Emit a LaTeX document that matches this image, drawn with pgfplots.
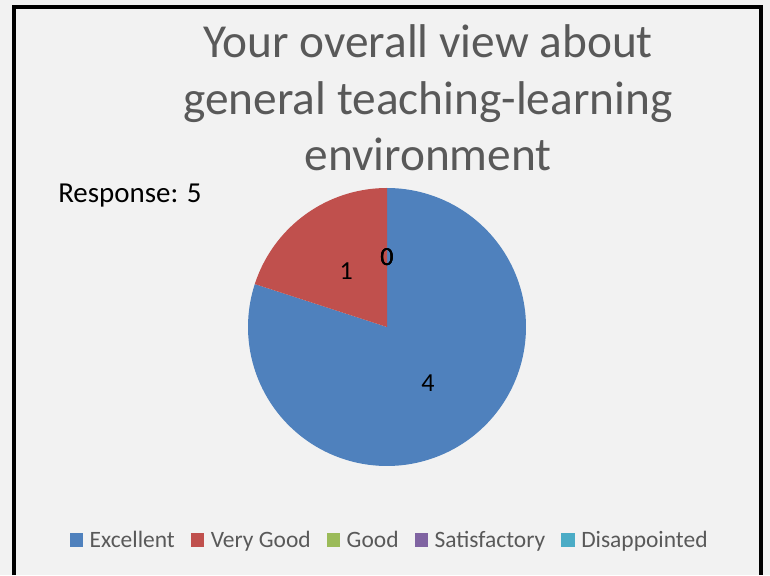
\documentclass[border=0pt]{standalone}
\usepackage{fontspec}
\setmainfont{Carlito}
\usepackage{pgfplots}
\usepackage{pgfplotstable}
\pgfplotsset{compat=1.18}
\definecolor{bgray}{HTML}{F2F2F2}
\definecolor{txtgray}{HTML}{595959}
\definecolor{cExc}{HTML}{4F81BD}
\definecolor{cVG}{HTML}{C0504D}
\definecolor{cGood}{HTML}{9BBB59}
\definecolor{cSat}{HTML}{8064A2}
\definecolor{cDis}{HTML}{4BACC6}

% answers to the question, one row per category
\pgfplotstableread[col sep=comma]{
label,value,color
Excellent,4,cExc
Very Good,1,cVG
Good,0,cGood
Satisfactory,0,cSat
Disappointed,0,cDis
}\piedata

\newcommand\labelfont{\fontsize{19.5}{22}\selectfont}
% pie centre and radius, in pixels of the 770x575 picture
\def\cx{387}
\def\cy{248}
\def\rr{139}

\begin{document}
\begin{tikzpicture}
% total of the answers
\def\total{0}
\pgfplotsforeachungrouped \i in {0,...,4}{%
  \pgfplotstablegetelem{\i}{value}\of\piedata
  \pgfmathsetmacro\total{\total+\pgfplotsretval}%
}
\begin{axis}[
    x=0.75pt, y=0.75pt,
    xmin=0, xmax=770, ymin=0, ymax=575,
    hide axis,
    axis background/.style={fill=bgray},
    legend columns=-1,
    legend image code/.code={\fill (0pt,-5pt) rectangle (10pt,5pt); \path (13pt,0pt);},
    legend style={at={(axis cs:390,35)}, anchor=center, draw=none, fill=none,
        font=\fontsize{17.6}{21}\selectfont, text=txtgray,
        /tikz/every even column/.append style={column sep=10pt}},
]
% frame, cut by the lower edge
\draw[line width=3pt, black] (axis cs:13.5,0) -- (axis cs:13.5,568) -- (axis cs:761,568) -- (axis cs:761,0);

\node[anchor=base, text=txtgray, font=\fontsize{35.5}{43}\selectfont] at (axis cs:428,517) {Your overall view about};
\node[anchor=base, text=txtgray, font=\fontsize{35.5}{43}\selectfont] at (axis cs:428,460.5) {general teaching-learning};
\node[anchor=base, text=txtgray, font=\fontsize{35.5}{43}\selectfont] at (axis cs:428,404) {environment};
\node[anchor=base west, inner sep=0pt, font=\fontsize{21.7}{24}\selectfont] at (axis cs:58,372) {Response: 5};

% slices clockwise from 12 o'clock, labels half way out
\def\startang{90}
\pgfplotsforeachungrouped \i in {0,...,4}{%
  \pgfplotstablegetelem{\i}{value}\of\piedata
  \let\val\pgfplotsretval
  \pgfplotstablegetelem{\i}{color}\of\piedata
  \let\col\pgfplotsretval
  \pgfmathsetmacro\endang{\startang-360*\val/\total}
  \pgfmathsetmacro\midang{(\startang+\endang)/2}
  \pgfmathsetmacro\lx{\cx+0.5*\rr*cos(\midang)}
  \pgfmathsetmacro\ly{\cy+0.5*\rr*sin(\midang)}
  \pgfmathtruncatemacro\nonzero{\val>0}
  \ifnum\nonzero=1
    \edef\temp{\noexpand\addplot[fill=\col, draw=none, forget plot, domain=\endang:\startang, samples=150]
      ({\cx+\rr*cos(x)},{\cy+\rr*sin(x)}) -- (axis cs:\cx,\cy) -- cycle;}
    \temp
  \fi
  \edef\temp{\noexpand\node[font=\noexpand\labelfont] at (axis cs:\lx,\ly) {\val};}
  \temp
  \let\startang\endang
}

\addlegendimage{fill=cExc, draw=none}
\addlegendentry{Excellent}
\addlegendimage{fill=cVG, draw=none}
\addlegendentry{Very Good}
\addlegendimage{fill=cGood, draw=none}
\addlegendentry{Good}
\addlegendimage{fill=cSat, draw=none}
\addlegendentry{Satisfactory}
\addlegendimage{fill=cDis, draw=none}
\addlegendentry{Disappointed}
\end{axis}
\end{tikzpicture}
\end{document}
